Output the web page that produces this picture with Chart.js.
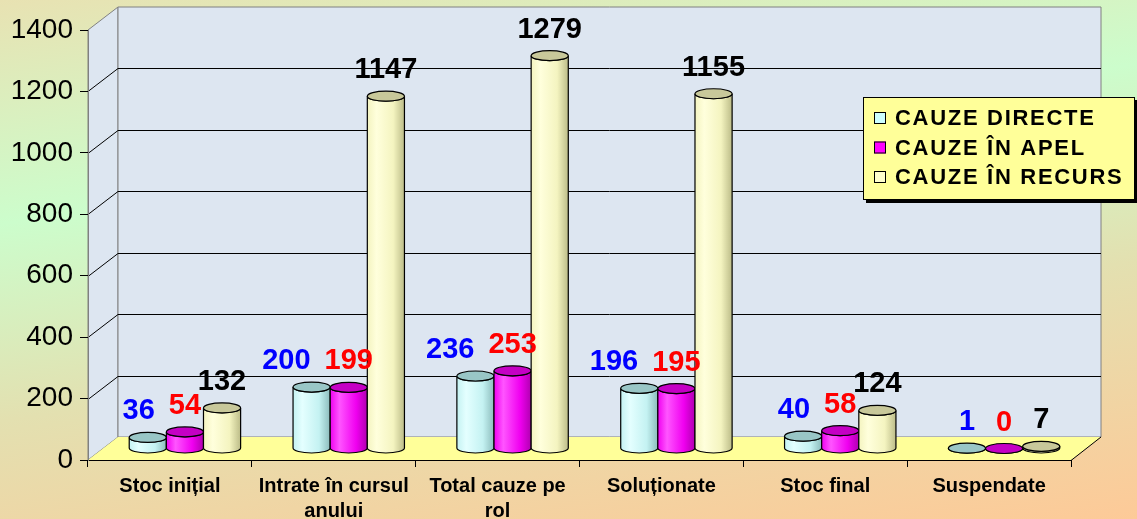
<!DOCTYPE html>
<html>
<head>
<meta charset="utf-8">
<script src="https://cdn.jsdelivr.net/npm/chart.js@4.4.1/dist/chart.umd.min.js"></script>
<style>
  html, body { margin: 0; padding: 0; }
  body {
    width: 1137px; height: 519px; overflow: hidden;
    background: linear-gradient(172deg, #e8e2b2 0%, #ccfdcc 33%, #e3e0b0 62%, #fdca98 100%);
  }
  canvas { display: block; }
</style>
</head>
<body>
<canvas id="chart" width="1137" height="519"></canvas>
<script>
const categories = [
    ["Stoc inițial"],
    ["Intrate în cursul", "anului"],
    ["Total cauze pe", "rol"],
    ["Soluționate"],
    ["Stoc final"],
    ["Suspendate"]
];
const seriesNames = ["CAUZE DIRECTE", "CAUZE ÎN APEL", "CAUZE ÎN RECURS"];
const cauzeDirecte = [36, 200, 236, 196, 40, 1];
const cauzeApel = [54, 199, 253, 195, 58, 0];
const cauzeRecurs = [132, 1147, 1279, 1155, 124, 7];
const yMin = 0, yMax = 1400, yStep = 200;

const FONT = "'Liberation Sans', Arial, sans-serif";
const DX = 30, DY = -23;           // depth of the 3d box
const BX = DX / 2, BY = DY / 2;    // bars stand in the middle of the depth

// body light, body base, body shade, cap, label colour
const looks = [
    { light: "#e4ffff", base: "#c4f2f2", shade: "#8cbcbc", cap: "#99c6c6", label: "#0000ff" },
    { light: "#ff55ff", base: "#f000f0", shade: "#b000b0", cap: "#c400c4", label: "#ff0000" },
    { light: "#ffffdc", base: "#f4f4c0", shade: "#bcbc88", cap: "#c8c89a", label: "#000000" }
];

function poly(ctx, pts, fill, stroke) {
    ctx.beginPath();
    pts.forEach((p, i) => i ? ctx.lineTo(p[0], p[1]) : ctx.moveTo(p[0], p[1]));
    ctx.closePath();
    if (fill) { ctx.fillStyle = fill; ctx.fill(); }
    if (stroke) { ctx.strokeStyle = stroke; ctx.lineWidth = 1; ctx.stroke(); }
}

const wallsPlugin = {
    id: "walls",
    beforeDraw(chart) {
        const { ctx, chartArea: a, scales: { y } } = chart;
        const wall = "#dde6f1";
        ctx.save();
        poly(ctx, [[a.left, a.top], [a.left + DX, a.top + DY], [a.left + DX, a.bottom + DY], [a.left, a.bottom]], wall, "#808080");
        poly(ctx, [[a.left + DX, a.top + DY], [a.right + DX, a.top + DY], [a.right + DX, a.bottom + DY], [a.left + DX, a.bottom + DY]], wall, "#808080");
        poly(ctx, [[a.left, a.bottom], [a.left + DX, a.bottom + DY], [a.right + DX, a.bottom + DY], [a.right, a.bottom]], "#ffff99", null);
        ctx.strokeStyle = "#000";
        ctx.lineWidth = 1;
        ctx.beginPath();
        ctx.moveTo(a.right, a.bottom + 0.5);
        ctx.lineTo(a.right + DX, a.bottom + DY);
        ctx.stroke();
        y.ticks.forEach(t => {
            if (t.value === yMin || t.value === yMax) return;
            const py = Math.round(y.getPixelForValue(t.value)) + 0.5;
            ctx.beginPath();
            ctx.moveTo(a.left, py);
            ctx.lineTo(a.left + DX, py + DY);
            ctx.lineTo(a.right + DX, py + DY);
            ctx.stroke();
        });
        ctx.restore();
    }
};

function drawCylinder(ctx, el, look) {
    const { x, y, base, width } = el.getProps(["x", "y", "base", "width"], true);
    const rx = width / 2, ry = 5;
    const g = ctx.createLinearGradient(x - rx, 0, x + rx, 0);
    g.addColorStop(0, look.base);
    g.addColorStop(0.25, look.light);
    g.addColorStop(0.7, look.base);
    g.addColorStop(1, look.shade);
    ctx.beginPath();
    ctx.moveTo(x - rx, y);
    ctx.lineTo(x - rx, base);
    ctx.ellipse(x, base, rx, ry, 0, Math.PI, 0, true);
    ctx.lineTo(x + rx, y);
    ctx.ellipse(x, y, rx, ry, 0, 0, Math.PI, false);
    ctx.closePath();
    ctx.fillStyle = g;
    ctx.fill();
    ctx.strokeStyle = "#000";
    ctx.lineWidth = 1.2;
    ctx.stroke();
    ctx.beginPath();
    ctx.ellipse(x, y, rx, ry, 0, 0, Math.PI * 2);
    ctx.fillStyle = look.cap;
    ctx.fill();
    ctx.stroke();
}

const cylinderPlugin = {
    id: "cylinders",
    beforeDatasetsDraw(chart) {
        chart.ctx.save();
        chart.ctx.translate(BX, BY);
    },
    afterDatasetsDraw(chart) {
        const ctx = chart.ctx;
        // cylinders over the library bars, left to right
        categories.forEach((c, i) => {
            chart.data.datasets.forEach((ds, d) => {
                drawCylinder(ctx, chart.getDatasetMeta(d).data[i], looks[d]);
            });
        });
        ctx.font = "bold 29px " + FONT;
        ctx.textAlign = "center";
        ctx.textBaseline = "middle";
        categories.forEach((c, i) => {
            const items = chart.data.datasets.map((ds, d) => {
                const el = chart.getDatasetMeta(d).data[i];
                const text = String(ds.data[i]);
                return { x: el.x, y: el.y - 26, text, w: ctx.measureText(text).width, color: looks[d].label };
            });
            // keep the first label clear of the second one
            const a = items[0], b = items[1];
            if (Math.abs(a.y - b.y) < 28) {
                const shift = (a.w + b.w) / 2 + 14 - (b.x - a.x);
                if (shift > 0) a.x -= shift;
            }
            items.forEach(it => {
                ctx.fillStyle = it.color;
                ctx.fillText(it.text, it.x, it.y);
            });
        });
        ctx.restore();
    }
};

const legendPlugin = {
    id: "boxLegend",
    afterDraw(chart) {
        const ctx = chart.ctx;
        const x = 863, y = 97, w = 272, h = 103;
        ctx.save();
        ctx.fillStyle = "#000";
        ctx.fillRect(x + 3, y + 3, w, h);
        ctx.fillStyle = "#ffff99";
        ctx.fillRect(x, y, w, h);
        ctx.strokeStyle = "#000";
        ctx.lineWidth = 1;
        ctx.strokeRect(x + 0.5, y + 0.5, w - 1, h - 1);
        ctx.font = "bold 22px " + FONT;
        ctx.letterSpacing = "1.7px";
        ctx.textBaseline = "middle";
        seriesNames.forEach((name, i) => {
            const ry = y + 21 + i * 29.5;
            ctx.fillStyle = i === 1 ? "#ff00ff" : (i === 0 ? "#ccffff" : "#ffffcc");
            ctx.fillRect(x + 11, ry - 6, 12, 12);
            ctx.strokeRect(x + 11.5, ry - 5.5, 11, 11);
            ctx.fillStyle = "#000";
            ctx.fillText(name, x + 32, ry + 1);
        });
        ctx.restore();
    }
};

new Chart(document.getElementById("chart"), {
    type: "bar",
    data: {
        labels: categories,
        datasets: [
            { label: seriesNames[0], data: cauzeDirecte, backgroundColor: looks[0].base },
            { label: seriesNames[1], data: cauzeApel, backgroundColor: looks[1].base },
            { label: seriesNames[2], data: cauzeRecurs, backgroundColor: looks[2].base }
        ]
    },
    options: {
        responsive: false,
        animation: false,
        devicePixelRatio: 1,
        layout: { padding: { top: 30, right: 66, left: 0, bottom: 0 } },
        datasets: { bar: { categoryPercentage: 0.68, barPercentage: 1, borderWidth: 0, clip: false } },
        plugins: { legend: { display: false }, tooltip: { enabled: false } },
        scales: {
            x: {
                grid: { drawOnChartArea: false, drawTicks: true, tickLength: 7, color: "#000", offset: true },
                border: { color: "#000" },
                ticks: {
                    color: "#000", padding: 7, maxRotation: 0, autoSkip: false,
                    font: { family: FONT, size: 20, weight: "bold", lineHeight: 1.25 }
                },
                afterFit(s) { s.height = 59; }
            },
            y: {
                min: yMin, max: yMax,
                grid: { drawOnChartArea: false, drawTicks: true, tickLength: 8, color: "#000" },
                border: { color: "#808080" },
                ticks: {
                    stepSize: yStep, color: "#000", padding: 7, font: { family: FONT, size: 28 },
                    callback: v => String(v)
                },
                afterFit(s) { s.width = 88; }
            }
        }
    },
    plugins: [wallsPlugin, cylinderPlugin, legendPlugin]
});
</script>
</body>
</html>
